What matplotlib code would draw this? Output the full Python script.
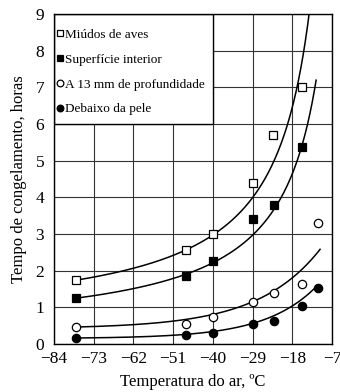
import numpy as np
import matplotlib
matplotlib.use("Agg")
import matplotlib.pyplot as plt
from matplotlib.patches import Rectangle

plt.rcParams['font.family'] = ['Liberation Serif', 'DejaVu Serif']
plt.rcParams['axes.unicode_minus'] = True

# Measured freezing times (hours) against air temperature (°C)
labels = ["Miúdos de aves", "Superfície interior",
          "A 13 mm de profundidade", "Debaixo da pele"]

temp_giblets = [-78, -47.5, -40, -28.8, -23.3, -15.4]
time_giblets = [1.75, 2.56, 3.0, 4.38, 5.71, 7.02]

temp_inner = [-78, -47.5, -40, -28.8, -23.0, -15.4]
time_inner = [1.25, 1.86, 2.26, 3.42, 3.80, 5.38]

temp_13mm = [-78, -47.5, -40, -28.8, -23.0, -15.3, -10.9]
time_13mm = [0.46, 0.54, 0.74, 1.15, 1.39, 1.63, 3.31]

temp_skin = [-78, -47.5, -40, -28.8, -23.0, -15.2, -10.9]
time_skin = [0.17, 0.25, 0.31, 0.54, 0.64, 1.04, 1.53]

x_ticks = [-84, -73, -62, -51, -40, -29, -18, -7]
y_ticks = list(range(0, 10))

# Smoothed trend curves: hyperbolic y = C + A/(x0 - x), exponential y = a + b*exp(c*x)
hyp_giblets = dict(C=0.52, A=92.0, x0=-2.5, x_end=-13.3)
hyp_inner = dict(C=0.23, A=79.4, x0=0.0, x_end=-11.4)
exp_13mm = dict(a=0.42, b=3.93, c=0.058, x_end=-10.3)
exp_skin = dict(a=0.15, b=3.13, c=0.07, x_end=-11.2)
x_start = -78


def hyperbolic(p):
    x = np.linspace(x_start, p['x_end'], 300)
    return x, p['C'] + p['A'] / (p['x0'] - x)


def exponential(p):
    x = np.linspace(x_start, p['x_end'], 300)
    return x, p['a'] + p['b'] * np.exp(p['c'] * x)


fig = plt.figure(figsize=(3.40, 3.92), dpi=100)
ax = fig.add_axes([54 / 340, 48 / 392, 278 / 340, 330 / 392])

ax.set_xlim(-84, -7)
ax.set_ylim(0, 9)
ax.set_xticks(x_ticks)
ax.set_yticks(y_ticks)
ax.grid(True, color='#333333', linewidth=0.8, zorder=0)
ax.set_axisbelow(True)
ax.tick_params(length=0, labelsize=12.5)
ax.tick_params(axis='x', pad=5)
ax.tick_params(axis='y', pad=7)
for s in ax.spines.values():
    s.set_linewidth(1.0)
    s.set_color('black')

# Box holding the legend
ax.add_patch(Rectangle((-84, 6), 44, 3, facecolor='white', edgecolor='black',
                       linewidth=1.0, zorder=1.5))

lw = 1.1
for fn, p in [(hyperbolic, hyp_giblets), (hyperbolic, hyp_inner),
              (exponential, exp_13mm), (exponential, exp_skin)]:
    x, y = fn(p)
    ax.plot(x, y, color='black', linewidth=lw, zorder=3)

kw = dict(linestyle='none', markeredgecolor='black', markeredgewidth=0.9, zorder=4)
h1, = ax.plot(temp_giblets, time_giblets, marker='s', markersize=5.5,
              markerfacecolor='white', label=labels[0], **kw)
h2, = ax.plot(temp_inner, time_inner, marker='s', markersize=5.5,
              markerfacecolor='black', label=labels[1], **kw)
h3, = ax.plot(temp_13mm, time_13mm, marker='o', markersize=6,
              markerfacecolor='white', label=labels[2], **kw)
h4, = ax.plot(temp_skin, time_skin, marker='o', markersize=6,
              markerfacecolor='black', label=labels[3], **kw)

leg = ax.legend(handles=[h1, h2, h3, h4], loc='upper left',
                bbox_to_anchor=(-0.03, 0.985), frameon=False,
                fontsize=9.5, handlelength=0.6, handletextpad=0.15,
                labelspacing=0.95, markerscale=0.8, borderaxespad=0.35)
leg.set_zorder(5)

ax.set_xlabel('Temperatura do ar, ºC', fontsize=12, labelpad=5)
ax.set_ylabel('Tempo de congelamento, horas', fontsize=12, labelpad=6)

fig.savefig('out.png', dpi=100)
